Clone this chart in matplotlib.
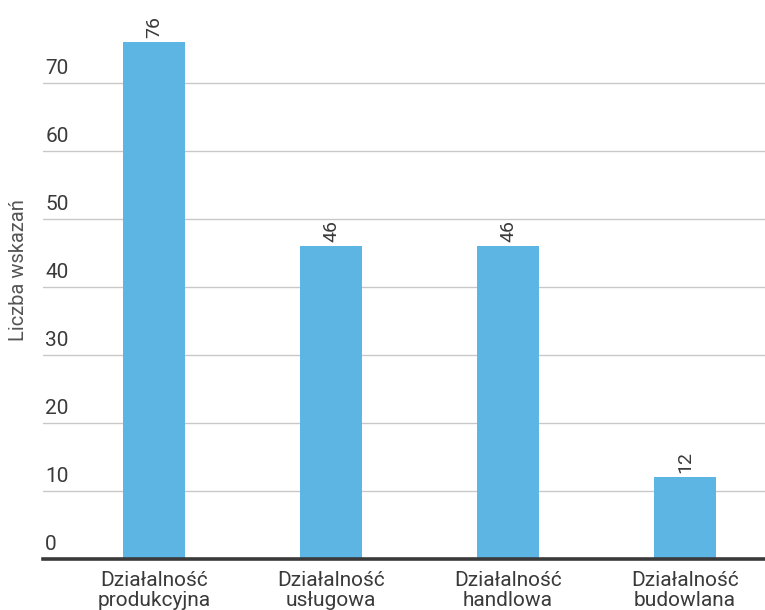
import matplotlib
matplotlib.use("Agg")
import matplotlib.pyplot as plt
import matplotlib.transforms as mtransforms

plt.rcParams['font.family'] = ['Roboto', 'DejaVu Sans']

# dane: liczba wskazań wg rodzaju działalności
categories = ["Działalność\nprodukcyjna", "Działalność\nusługowa",
              "Działalność\nhandlowa", "Działalność\nbudowlana"]
values = [76, 46, 46, 12]
yticks = [0, 10, 20, 30, 40, 50, 60, 70]

bar_color = "#5DB5E4"
text_color = "#3a3a3a"

fig = plt.figure(figsize=(7.65, 6.10), dpi=100)
ax = fig.add_axes([43 / 765, 51 / 610, 1 - 43 / 765, 559 / 610])

x = list(range(len(categories)))
bars = ax.bar(x, values, width=0.35, color=bar_color, zorder=2)

ax.set_xlim(-0.627, 3.452)
ax.set_ylim(0, 82.2)

# siatka pozioma
for t in yticks[1:]:
    ax.axhline(t, color="#c8c8c8", linewidth=1.0, zorder=1)
ax.axhline(0, color="#3a3a3a", linewidth=2.6, zorder=3, clip_on=False)

# etykiety osi Y nad liniami siatki
trans = mtransforms.blended_transform_factory(ax.transAxes, ax.transData)
for t in yticks:
    ax.text(0.003, t + 0.7, str(t), transform=trans, ha="left", va="bottom",
            fontsize=15, color=text_color)

# wartości nad słupkami
for rect, v in zip(bars, values):
    ax.text(rect.get_x() + rect.get_width() / 2, v + 0.6, str(v),
            rotation=90, ha="center", va="bottom", fontsize=14, color=text_color)

ax.set_xticks(x)
ax.set_xticklabels(categories, fontsize=15, color=text_color,
                   linespacing=1.0)
ax.tick_params(axis="x", length=0, pad=9)
ax.set_yticks([])
for s in ax.spines.values():
    s.set_visible(False)

fig.text(19 / 765, 1 - 270 / 610, "Liczba wskazań", rotation=90,
         ha="center", va="center", fontsize=14.5, color="#555555")

fig.savefig("out.png", dpi=100)
